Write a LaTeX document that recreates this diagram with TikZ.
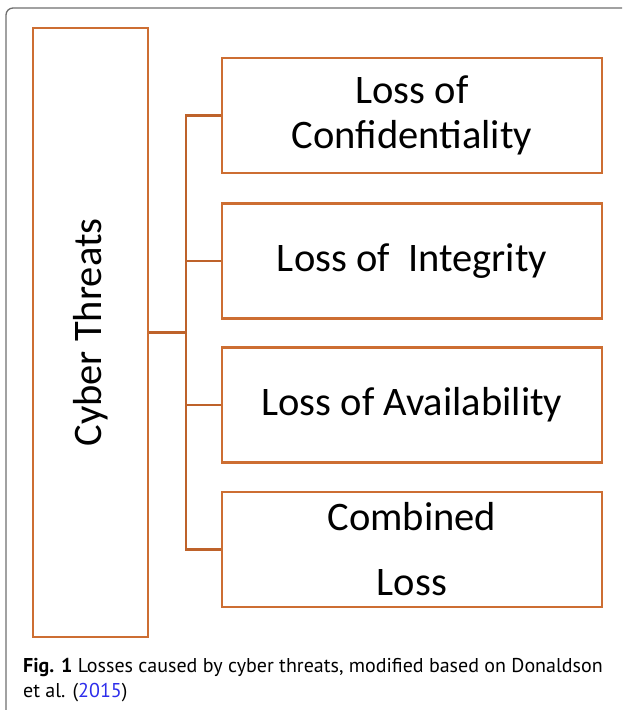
\documentclass[tikz,border=0pt]{standalone}
\usepackage{fontspec}
\setmainfont{Carlito}
\newfontfamily\capfont{PT Sans}
\definecolor{boxorange}{RGB}{205,110,50}
\definecolor{linkorange}{RGB}{190,98,42}
\definecolor{framegray}{RGB}{110,110,110}
\definecolor{linkblue}{RGB}{45,45,235}
\begin{document}
\begin{tikzpicture}[x=1pt,y=-1pt,
  lossbox/.style={draw=boxorange,line width=2.8pt,minimum width=380pt,minimum height=115pt,
    inner sep=0pt,align=center,font=\fontsize{40.5}{45}\selectfont},
  rootbox/.style={draw=boxorange,line width=2.8pt,minimum width=115pt,minimum height=609pt,inner sep=0pt},
  conn/.style={draw=linkorange,line width=2.2pt},
  frameline/.style={draw=framegray,line width=1.3pt},
  captext/.style={anchor=base west,inner sep=0pt,font=\capfont\fontsize{20}{25}\selectfont}]
\useasboundingbox (0,0) rectangle (622,710);
% frame
\draw[frameline,rounded corners=7pt] (6,710) -- (6,8) -- (622,8);
% boxes
\node[rootbox] (root) at (90.5,332.5) {};
\node[rotate=90,font=\fontsize{40.5}{45}\selectfont] (roottext) at (90.5,332.5) {Cyber Threats};
\node[lossbox] (b1) at (412,115.5) {Loss of\\Confidentiality};
\node[lossbox] (b2) at (412,261) {Loss of~~Integrity};
\node[lossbox] (b3) at (412,405) {Loss of Availability};
\node[lossbox] (b4) at (412,549.5) {Combined\\[20pt]Loss};
% connectors
\coordinate (hub) at (186,332.5);
\draw[conn] (root.east) -- (hub);
\draw[conn] (b1.west) -| (hub);
\draw[conn] (b2.west) -- (b2.west -| hub);
\draw[conn] (b3.west) -- (b3.west -| hub);
\draw[conn] (b4.west) -| (hub);
% caption
\node[captext] (cap1) at (23,672)
  {\textbf{Fig. 1} Losses caused by cyber threats, modified based on Donaldson};
\node[captext] (cap2) at (23,697) {et al. (\textcolor{linkblue}{2015})};
\end{tikzpicture}
\end{document}
